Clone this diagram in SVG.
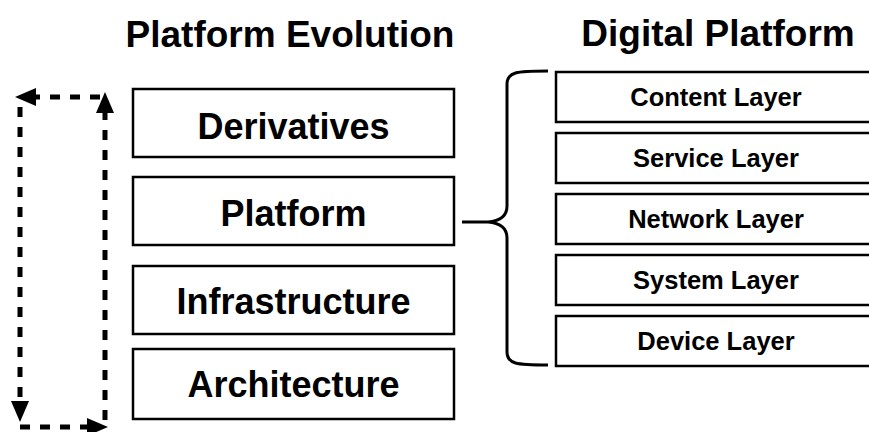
<svg xmlns="http://www.w3.org/2000/svg" width="869" height="432" viewBox="0 0 869 432">
<style>
.box{fill:#fff;stroke:#000;stroke-width:2.5}
.t{font-family:"Liberation Sans",Arial,sans-serif;font-weight:bold;fill:#000;text-anchor:middle}
.big{font-size:36px}
.sm{font-size:25.5px}
.title{font-size:37px}
.dash{fill:none;stroke:#000;stroke-width:5;stroke-dasharray:10 10}
.brace{fill:none;stroke:#000;stroke-width:3}
</style>
<defs>
<marker id="ah" viewBox="0 0 21 18" refX="0" refY="9" markerWidth="21" markerHeight="18" markerUnits="userSpaceOnUse" orient="auto">
<path d="M0,0 L21,9 L0,18 Z" fill="#000"/>
</marker>
</defs>
<text class="t title" x="290" y="47">Platform Evolution</text>
<text class="t title" x="718" y="46">Digital Platform</text>
<g id="derivatives"><rect class="box" x="133" y="89" width="321" height="68"/><text class="t big" x="293.5" y="139">Derivatives</text></g>
<g id="platform"><rect class="box" x="133" y="177" width="321" height="68"/><text class="t big" x="293.5" y="226">Platform</text></g>
<g id="infrastructure"><rect class="box" x="133" y="266" width="321" height="68"/><text class="t big" x="293.5" y="314">Infrastructure</text></g>
<g id="architecture"><rect class="box" x="133" y="349" width="321" height="70"/><text class="t big" x="293.5" y="397">Architecture</text></g>
<g id="content"><rect class="box" x="556" y="72" width="320" height="50"/><text class="t sm" x="716" y="106">Content Layer</text></g>
<g id="service"><rect class="box" x="556" y="133" width="320" height="50"/><text class="t sm" x="716" y="167">Service Layer</text></g>
<g id="network"><rect class="box" x="556" y="194" width="320" height="50"/><text class="t sm" x="716" y="228">Network Layer</text></g>
<g id="system"><rect class="box" x="556" y="255" width="320" height="50"/><text class="t sm" x="716" y="289">System Layer</text></g>
<g id="device"><rect class="box" x="556" y="316" width="320" height="50"/><text class="t sm" x="716" y="350">Device Layer</text></g>
<g id="connectors">
<path class="brace" d="M548,71 C516,71 507,72 507,84 L507,206 C507,216 500,221 488,222 L462,222 M488,222 C500,223 507,228 507,238 L507,352 C507,364 516,365 548,365"/>
<path class="dash" d="M20,107 L20,401" marker-end="url(#ah)"/>
<path class="dash" d="M20,427 L87,427" marker-end="url(#ah)"/>
<path class="dash" d="M105,420 L105,113" marker-end="url(#ah)"/>
<path class="dash" d="M100,97 L36,97" marker-end="url(#ah)"/>
</g>
</svg>
